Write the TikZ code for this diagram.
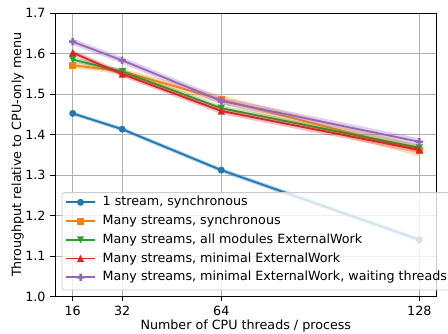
\documentclass[tikz,border=0pt]{standalone}
\usepackage{fontspec}
\setmainfont{DejaVu Sans}
\definecolor{tabblue}{HTML}{1F77B4}
\definecolor{taborange}{HTML}{FF7F0E}
\definecolor{tabgreen}{HTML}{2CA02C}
\definecolor{tabred}{HTML}{D62728}
\definecolor{tabpurple}{HTML}{9467BD}
\tikzset{gridline/.style={draw=black!31,line width=0.9pt}}
\tikzset{spine/.style={draw=black,line width=0.95pt}}
\tikzset{lab/.style={inner sep=0pt}}
\tikzset{curve/.style={line width=1.85pt,line join=round}}
\tikzset{band/.style={fill opacity=0.3}}
% markers
\tikzset{mko/.pic={\fill (0pt,0pt) circle (3.5pt);}}
\tikzset{mks/.pic={\fill (-3.5pt,-3.5pt) rectangle (3.5pt,3.5pt);}}
\tikzset{mkv/.pic={\fill (-3.6pt,3.5pt) -- (3.6pt,3.5pt) -- (0pt,-3.6pt) -- cycle;}}
\tikzset{mkup/.pic={\fill (-3.6pt,-3.5pt) -- (3.6pt,-3.5pt) -- (0pt,3.6pt) -- cycle;}}
\tikzset{mkp/.pic={\fill (-3.7pt,-1.25pt) -- (-1.25pt,-1.25pt) -- (-1.25pt,-3.7pt) -- (1.25pt,-3.7pt) -- (1.25pt,-1.25pt) -- (3.7pt,-1.25pt) -- (3.7pt,1.25pt) -- (1.25pt,1.25pt) -- (1.25pt,3.7pt) -- (-1.25pt,3.7pt) -- (-1.25pt,1.25pt) -- (-3.7pt,1.25pt) -- cycle;}}

\begin{document}
\begin{tikzpicture}[x=1pt,y=1pt,font=\fontsize{12.7}{15}\selectfont]
\useasboundingbox (0,0) rectangle (448,334);
\clip (0,0) rectangle (448,334);
\begin{scope}[x=3.095pt,y=405pt,shift={(23.2pt,-367.5pt)}]
% grid and ticks
\foreach \t [count=\i] in {16,32,64,128} {
  \draw[gridline] (\t,1) -- (\t,1.7);
  \draw[spine] (\t,1) -- ++(0,-4.5pt) node[lab,anchor=north,yshift=-4.5pt] (xt\i) {\t};
}
\foreach \v [count=\i] in {1.0,1.1,1.2,1.3,1.4,1.5,1.6,1.7} {
  \draw[gridline] (10.27,\v) -- (133.6,\v);
  \draw[spine] (10.27,\v) -- ++(-4.5pt,0) node[lab,anchor=east,xshift=-4.5pt] (yt\i) {\v};
}
% bands, lines and markers
\foreach \col/\mk/\a/\b/\c/\d/\e/\f in {
  tabblue/mko/1.452/1.413/1.312/1.140/0.005/0.006,
  taborange/mks/1.571/1.556/1.486/1.360/0.007/0.014,
  tabgreen/mkv/1.585/1.555/1.465/1.367/0.006/0.007,
  tabred/mkup/1.602/1.549/1.458/1.362/0.007/0.008,
  tabpurple/mkp/1.629/1.583/1.483/1.382/0.008/0.009} {
  \fill[band,\col] (16,\a+\e) -- (32,\b+\e) -- (64,\c+\e/2+\f/2) -- (128,\d+\f)
    -- (128,\d-\f) -- (64,\c-\e/2-\f/2) -- (32,\b-\e) -- (16,\a-\e) -- cycle;
  \draw[curve,\col] (16,\a) -- (32,\b) -- (64,\c) -- (128,\d);
  \foreach \t/\v in {16/\a,32/\b,64/\c,128/\d}
    \pic[\col] at (\t,\v) {\mk};
}
% frame
\draw[spine] (10.27,1) rectangle (133.6,1.7);
\end{scope}

% legend
\draw[draw=black!20,fill=white,fill opacity=0.8,rounded corners=2.5pt,line width=0.9pt] (62,44) rectangle (455,141.3);
\foreach \col/\mk/\txt [count=\i] in {
  {tabblue/mko/1 stream, synchronous},
  {taborange/mks/Many streams, synchronous},
  {tabgreen/mkv/Many streams, all modules ExternalWork},
  {tabred/mkup/Many streams, minimal ExternalWork},
  {tabpurple/mkp/Many streams, minimal ExternalWork, waiting threads}} {
  \draw[curve,\col] (66,131.7-18.75*\i+18.75) -- (95,131.7-18.75*\i+18.75);
  \pic[\col] at (80.5,131.7-18.75*\i+18.75) {\mk};
  \node[lab,anchor=west] (leg\i) at (102.5,131.7-18.75*\i+18.75) {\txt};
}

% axis titles
\node[lab] (xtitle) at (245.8,7.5) {Number of CPU threads / process};
\node[lab,rotate=90] (ytitle) at (17.5,179.2) {Throughput relative to CPU-only menu};
\end{tikzpicture}
\end{document}
